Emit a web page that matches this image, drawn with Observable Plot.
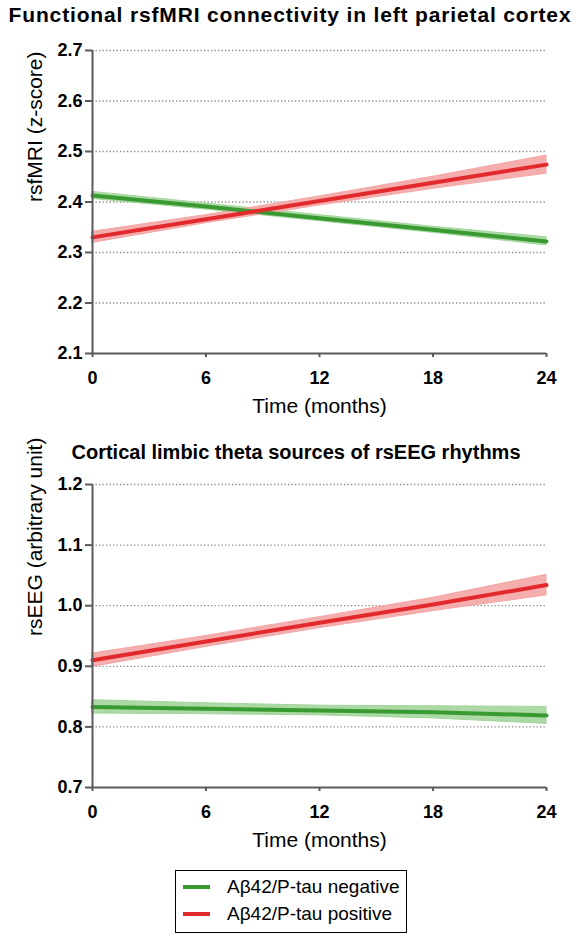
<!DOCTYPE html>
<html><head><meta charset="utf-8">
<script src="https://cdn.jsdelivr.net/npm/d3@7"></script>
<script src="https://cdn.jsdelivr.net/npm/@observablehq/plot@0.6"></script>
<style>
body{margin:0;background:#fff;font-family:"Liberation Sans",Arial,sans-serif;}
#wrap{position:relative;width:580px;height:936px;overflow:hidden;}
.title{position:absolute;left:0;width:580px;text-align:center;font-weight:bold;font-size:20px;line-height:24px;color:#000;white-space:nowrap;}
.chart{position:absolute;left:0;}
#legend{position:absolute;left:175px;top:870px;width:232px;height:63px;border:1.5px solid #000;box-sizing:border-box;background:#fff;}
.row{position:absolute;left:0;height:26px;font-size:19px;line-height:26px;color:#000;white-space:nowrap;}
.sw{display:inline-block;width:27px;height:4px;vertical-align:middle;margin:0 17px 0 7px;position:relative;top:-1px;}
</style></head>
<body>
<div id="wrap">
  <div class="title" id="t1" style="top:3px;font-size:21px;letter-spacing:0.85px;"></div>
  <div class="chart" id="c1" style="top:30px;"></div>
  <div class="title" id="t2" style="top:440px;left:6px;"></div>
  <div class="chart" id="c2" style="top:464px;"></div>
  <div id="legend"></div>
</div>
<script>
// ---- data ----
const titles = ["Functional rsfMRI connectivity in left parietal cortex", "Cortical limbic theta sources of rsEEG rhythms"];
const yLabels = ["rsfMRI (z-score)", "rsEEG (arbitrary unit)"];
const xLabel = "Time (months)";
const seriesNames = ["A\u03b242/P-tau negative", "A\u03b242/P-tau positive"];
const months = [0, 6, 12, 18, 24];
const xTicks = [0, 6, 12, 18, 24];

const mriTicks = [2.1, 2.2, 2.3, 2.4, 2.5, 2.6, 2.7];
const mriNegMean = [2.413, 2.391, 2.368, 2.345, 2.322];
const mriNegLow  = [2.406, 2.385, 2.362, 2.339, 2.314];
const mriNegHigh = [2.420, 2.397, 2.374, 2.351, 2.330];
const mriPosMean = [2.330, 2.366, 2.402, 2.438, 2.474];
const mriPosLow  = [2.319, 2.358, 2.393, 2.426, 2.456];
const mriPosHigh = [2.341, 2.374, 2.411, 2.450, 2.492];

const eegTicks = [0.7, 0.8, 0.9, 1.0, 1.1, 1.2];
const eegNegMean = [0.833, 0.830, 0.827, 0.824, 0.819];
const eegNegLow  = [0.822, 0.821, 0.819, 0.814, 0.805];
const eegNegHigh = [0.844, 0.839, 0.835, 0.834, 0.833];
const eegPosMean = [0.910, 0.941, 0.972, 1.002, 1.034];
const eegPosLow  = [0.899, 0.932, 0.963, 0.991, 1.017];
const eegPosHigh = [0.921, 0.950, 0.981, 1.013, 1.051];

const green = "#3a9a32", red = "#e2292b";
const greenBand = "#a3d59b", redBand = "#f4a5a5";

function rows(mean, low, high) {
  return months.map((m, i) => ({m, mean: mean[i], low: low[i], high: high[i]}));
}

function chart(yTicks, yLab, neg, pos, fmt) {
  const y0 = yTicks[0], y1 = yTicks[yTicks.length - 1];
  return Plot.plot({
    width: 580, height: 394,
    marginLeft: 92, marginRight: 34, marginTop: 20, marginBottom: 71,
    style: {fontFamily: "'Liberation Sans', Arial, sans-serif", background: "#fff", overflow: "visible"},
    x: {domain: [0, 24]},
    y: {domain: [y0, y1]},
    marks: [
      Plot.gridY(yTicks.slice(1), {stroke: "#8a8a8a", strokeOpacity: 1, strokeWidth: 1.3, strokeDasharray: "1.3,2.2"}),
      Plot.areaY(neg, {x: "m", y1: "low", y2: "high", fill: greenBand, fillOpacity: 0.9, stroke: greenBand, strokeWidth: 1}),
      Plot.areaY(pos, {x: "m", y1: "low", y2: "high", fill: redBand, fillOpacity: 0.9, stroke: redBand, strokeWidth: 1}),
      Plot.line(neg, {x: "m", y: "mean", stroke: green, strokeWidth: 4}),
      Plot.line(pos, {x: "m", y: "mean", stroke: red, strokeWidth: 4}),
      Plot.ruleX([0], {stroke: "#5a5a5a", strokeWidth: 2}),
      Plot.ruleY([y0], {stroke: "#5a5a5a", strokeWidth: 2}),
      Plot.axisY({ticks: yTicks, tickSize: 7, tickPadding: 3, stroke: "#5a5a5a", strokeWidth: 2, fill: "#000", fontSize: 18, fontWeight: "bold", tickFormat: fmt, label: null}),
      Plot.axisX({ticks: xTicks, tickSize: 4, tickPadding: 14, stroke: "#5a5a5a", strokeWidth: 2, fill: "#000", fontSize: 18, fontWeight: "bold", label: null}),
      Plot.text([xLabel], {frameAnchor: "bottom", dy: 59, fontSize: 21, fill: "#000"}),
      Plot.text([yLab], {frameAnchor: "left", dx: -57, rotate: -90, fontSize: 21, fill: "#000"})
    ]
  });
}

document.getElementById("t1").textContent = titles[0];
document.getElementById("t2").textContent = titles[1];
document.getElementById("c1").appendChild(chart(mriTicks, yLabels[0], rows(mriNegMean, mriNegLow, mriNegHigh), rows(mriPosMean, mriPosLow, mriPosHigh), d3.format(".1f")));
document.getElementById("c2").appendChild(chart(eegTicks, yLabels[1], rows(eegNegMean, eegNegLow, eegNegHigh), rows(eegPosMean, eegPosLow, eegPosHigh), d3.format(".1f")));

const leg = document.getElementById("legend");
[green, red].forEach((c, i) => {
  const r = document.createElement("div");
  r.className = "row";
  r.style.top = (3 + i * 27) + "px";
  r.innerHTML = `<span class="sw" style="background:${c}"></span>${seriesNames[i]}`;
  leg.appendChild(r);
});
</script>
</body></html>
